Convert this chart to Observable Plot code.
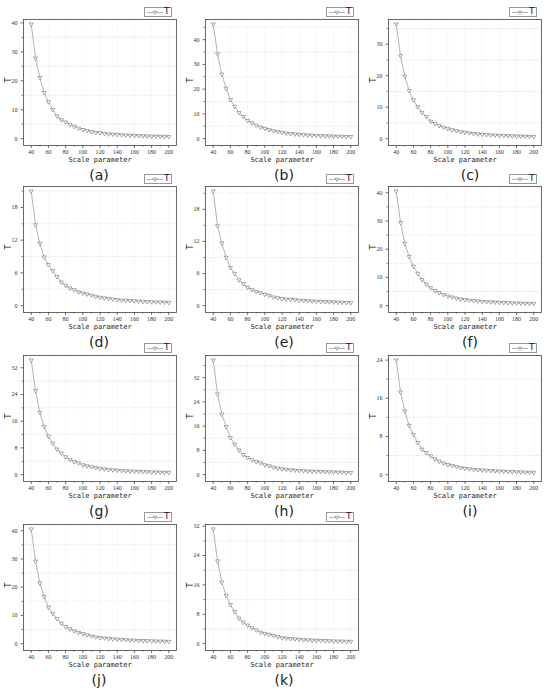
<!DOCTYPE html>
<html><head><meta charset="utf-8">
<script src="https://cdn.jsdelivr.net/npm/d3@7"></script>
<script src="https://cdn.jsdelivr.net/npm/@observablehq/plot@0.6"></script>
<style>
body{margin:0;background:#fff;}
#root{position:relative;width:550px;height:695px;overflow:hidden;background:#fff;}
.cell{position:absolute;width:182px;height:168px;}
.cell svg.plot{position:absolute;left:0;top:0;}
.legend{position:absolute;left:144px;top:7px;width:28px;height:10px;border:1px solid #999;background:#fff;box-sizing:border-box;}
.legend svg{position:absolute;left:1px;top:0px;}
.legend span{position:absolute;left:19px;top:-2px;font:9px "DejaVu Sans",sans-serif;color:#222;}
.cap{position:absolute;top:167px;width:60px;text-align:center;font:14px "DejaVu Sans",sans-serif;color:#222;}
</style>
</head><body>
<div id="root"></div>
<script>
const scaleParams = [40,45,50,55,60,65,70,75,80,85,90,95,100,105,110,115,120,125,130,135,140,145,150,155,160,165,170,175,180,185,190,195,200];
const xTicks = [40,60,80,100,120,140,160,180,200];
const xMinor = [50,70,90,110,130,150,170,190];
const panelLabels = ["(a)","(b)","(c)","(d)","(e)","(f)","(g)","(h)","(i)","(j)","(k)"];

const tA = [39.6,27.8,21.1,15.9,12.7,10.0,7.8,6.5,5.7,4.9,4.2,3.6,3.1,2.8,2.4,2.1,2.0,1.8,1.6,1.5,1.4,1.3,1.2,1.15,1.05,1.0,0.95,0.9,0.85,0.8,0.78,0.74,0.7];
const tB = [46.3,34.2,26.0,20.3,15.7,13.0,10.5,8.9,7.3,6.4,5.4,4.6,4.1,3.6,3.1,2.8,2.5,2.2,2.0,1.8,1.7,1.55,1.45,1.35,1.25,1.15,1.1,1.05,1.0,0.95,0.9,0.85,0.8];
const tC = [36.4,26.3,19.8,15.3,12.3,10.1,8.3,7.0,5.5,4.8,4.1,3.6,3.2,2.8,2.5,2.2,2.0,1.8,1.6,1.45,1.35,1.25,1.15,1.1,1.0,0.95,0.9,0.85,0.8,0.76,0.72,0.68,0.64];
const tD = [21.0,14.8,11.4,8.9,7.5,6.4,5.3,4.3,3.7,3.2,2.9,2.5,2.3,2.1,1.9,1.7,1.5,1.4,1.3,1.2,1.1,1.0,0.95,0.9,0.85,0.8,0.75,0.72,0.68,0.65,0.62,0.6,0.58];
const tE = [21.4,14.9,11.7,9.0,7.1,6.0,4.8,4.1,3.4,3.0,2.6,2.4,2.1,1.9,1.6,1.45,1.3,1.2,1.15,1.1,1.0,0.95,0.9,0.85,0.82,0.78,0.74,0.7,0.67,0.64,0.6,0.57,0.55];
const tF = [40.6,29.4,22.0,17.4,13.9,11.4,9.2,7.6,6.3,5.3,4.6,3.9,3.4,3.0,2.6,2.35,2.1,1.9,1.75,1.6,1.5,1.4,1.3,1.2,1.15,1.1,1.0,0.95,0.9,0.85,0.8,0.75,0.72];
const tG = [34.3,25.1,18.6,14.4,11.5,9.4,7.6,6.4,5.3,4.5,3.9,3.5,2.9,2.6,2.3,2.05,1.8,1.65,1.5,1.4,1.3,1.2,1.1,1.05,1.0,0.95,0.9,0.85,0.8,0.76,0.72,0.68,0.65];
const tH = [37.8,26.6,19.9,15.8,12.2,10.0,8.1,6.6,5.6,4.9,4.3,3.9,3.2,2.9,2.4,2.1,1.85,1.7,1.55,1.45,1.35,1.25,1.15,1.1,1.05,1.0,0.95,0.9,0.85,0.8,0.75,0.7,0.67];
const tI = [24.0,17.3,13.3,10.3,8.4,6.7,5.3,4.6,3.9,3.3,2.8,2.4,2.1,1.9,1.7,1.45,1.3,1.2,1.1,1.0,0.95,0.88,0.82,0.77,0.72,0.68,0.64,0.6,0.57,0.54,0.51,0.48,0.46];
const tJ = [40.6,29.2,21.5,16.7,12.9,10.6,8.8,7.2,6.0,5.2,4.5,4.0,3.5,3.1,2.7,2.35,2.1,1.95,1.8,1.65,1.55,1.45,1.35,1.25,1.2,1.1,1.05,1.0,0.95,0.9,0.85,0.8,0.75];
const tK = [31.2,22.5,16.7,13.1,10.6,8.7,6.9,5.8,5.0,4.3,3.7,3.1,2.75,2.5,2.2,1.85,1.6,1.45,1.35,1.25,1.15,1.05,1.0,0.95,0.9,0.85,0.8,0.75,0.7,0.67,0.64,0.6,0.58];

const yTicksA = [0,10,20,30,40], yTicksB = [0,10,20,30,40], yTicksC = [0,10,20,30];
const yTicksD = [0,6,12,18], yTicksE = [0,6,12,18], yTicksF = [0,10,20,30,40];
const yTicksG = [0,8,16,24,32], yTicksH = [0,8,16,24,32], yTicksI = [0,8,16,24];
const yTicksJ = [0,10,20,30,40], yTicksK = [0,8,16,24,32];

const series = [tA,tB,tC,tD,tE,tF,tG,tH,tI,tJ,tK];
const yTickSets = [yTicksA,yTicksB,yTicksC,yTicksD,yTicksE,yTicksF,yTicksG,yTicksH,yTicksI,yTicksJ,yTicksK];

const colX = [0,182,365];
const rowY = [0,167,336,505];

function panel(vals, yt){
  const data = scaleParams.map((x,i)=>({x, t: vals[i]}));
  const max = d3.max(vals);
  const ylo = -0.06*max, yhi = 1.04*max;
  const step = yt[1]-yt[0];
  const minor = yt.map(v=>v+step/2).filter(v=>v>ylo && v<yhi);
  return Plot.plot({
    width:180, height:165,
    marginLeft:23, marginRight:4, marginTop:19, marginBottom:20,
    style:{background:"transparent", fontFamily:"'Liberation Serif',serif", fontSize:"6px", color:"#333", overflow:"visible"},
    x:{domain:[31,209]},
    y:{domain:[ylo,yhi]},
    marks:[
      Plot.gridY(minor,{stroke:"#e8e8e8", strokeOpacity:1, strokeWidth:0.6}),
      Plot.gridX(xTicks,{stroke:"#f2f2f2", strokeOpacity:1, strokeWidth:0.6}),
      Plot.axisX(xTicks,{tickSize:3, tickPadding:1.5, label:null, strokeWidth:0.7}),
      Plot.axisX(xMinor,{tickSize:1.6, text:null, label:null, strokeWidth:0.6}),
      Plot.axisY(yt,{tickSize:2.5, tickPadding:3.5, label:null, strokeWidth:0.7}),
      Plot.axisY(minor,{tickSize:1.5, text:null, label:null, strokeWidth:0.6}),
      Plot.frame({stroke:"#444", strokeWidth:0.8}),
      Plot.line(data,{x:"x", y:"t", stroke:"#a0a0a0", strokeWidth:0.8}),
      Plot.dot(data,{x:"x", y:"t", symbol:"triangle", rotate:180, r:1.5, stroke:"#707070", fill:"white", strokeWidth:0.6}),
      Plot.text(["Scale parameter"],{text:d=>d, frameAnchor:"bottom", dy:16, fontFamily:"'DejaVu Sans Mono',monospace", fontSize:7, fill:"#222"}),
      Plot.text(["T"],{text:d=>d, frameAnchor:"left", dx:-15, rotate:-90, fontFamily:"'DejaVu Sans',sans-serif", fontSize:8, fill:"#222"})
    ]
  });
}

const root = document.getElementById("root");
series.forEach((vals, i) => {
  const col = i % 3, row = Math.floor(i / 3);
  const cell = document.createElement("div");
  cell.className = "cell";
  cell.style.left = colX[col] + "px";
  cell.style.top = rowY[row] + "px";
  const svg = panel(vals, yTickSets[i]);
  svg.classList.add("plot");
  cell.appendChild(svg);
  const leg = document.createElement("div");
  leg.className = "legend";
  leg.innerHTML = '<svg width="18" height="9"><line x1="1" x2="17" y1="4.5" y2="4.5" stroke="#a0a0a0" stroke-width="0.8"/><path d="M7,3.2 L11,3.2 L9,6.2 Z" fill="white" stroke="#707070" stroke-width="0.6"/></svg><span>T</span>';
  cell.appendChild(leg);
  const cap = document.createElement("div");
  cap.className = "cap";
  cap.textContent = panelLabels[i];
  cap.style.left = (99 + col*3 - 30) + "px";
  cell.appendChild(cap);
  root.appendChild(cell);
});
</script>
</body></html>
